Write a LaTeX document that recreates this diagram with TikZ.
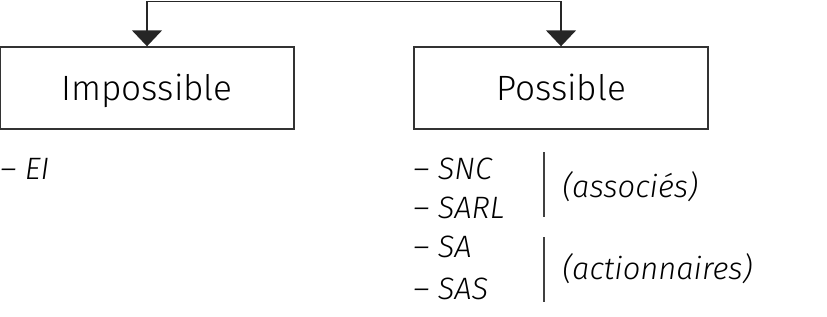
\documentclass[tikz,border=0pt]{standalone}
\usepackage{fontspec}
\setmainfont{Fira Sans Light}
\usetikzlibrary{arrows.meta,positioning}

\tikzset{
  boite/.style={draw=black!80, line width=1pt, minimum width=294*0.025cm, minimum height=82*0.025cm,
    inner sep=0pt, text height=17.5pt, text depth=0pt, font=\fontsize{25}{29}\selectfont},
  liste/.style={anchor=base west, inner sep=0pt, font=\fontsize{22}{26}\selectfont\itshape},
  barre/.style={draw=black!75, line width=0.9pt},
}

\begin{document}
\begin{tikzpicture}[x=0.025cm, y=-0.025cm, >={Triangle[width=30*0.025cm, length=16*0.025cm]}]
  \useasboundingbox (0,0) rectangle (827,316);
  % the two boxes
  \node [boite] (imp) at (147,88) {Impossible};
  \node [boite] (pos) at (561,88) {Possible};
  % branching connector from the top
  \coordinate (haut) at (354,1.5);
  \draw [->, line width=1pt, black!85] (haut) -| (imp.north);
  \draw [->, line width=1pt, black!85] (haut) -| (pos.north);
  % lists under each box
  \node [liste] (ei) at (0,179) {– EI};
  \node [liste] (snc) at (413,179) {– SNC};
  \node [liste] (sarl) at (413,218) {– SARL};
  \node [liste] (sa) at (413,257) {– SA};
  \node [liste] (sas) at (413,299) {– SAS};
  % side brackets
  \coordinate (b1) at (544,152);
  \coordinate (b2) at (544,217);
  \coordinate (b3) at (544,237);
  \coordinate (b4) at (544,302);
  \draw [barre] (b1) -- (b2);
  \draw [barre] (b3) -- (b4);
  \node [liste] (assoc) at (562,197) {(associés)};
  \node [liste] (action) at (562,279) {(actionnaires)};
\end{tikzpicture}
\end{document}
